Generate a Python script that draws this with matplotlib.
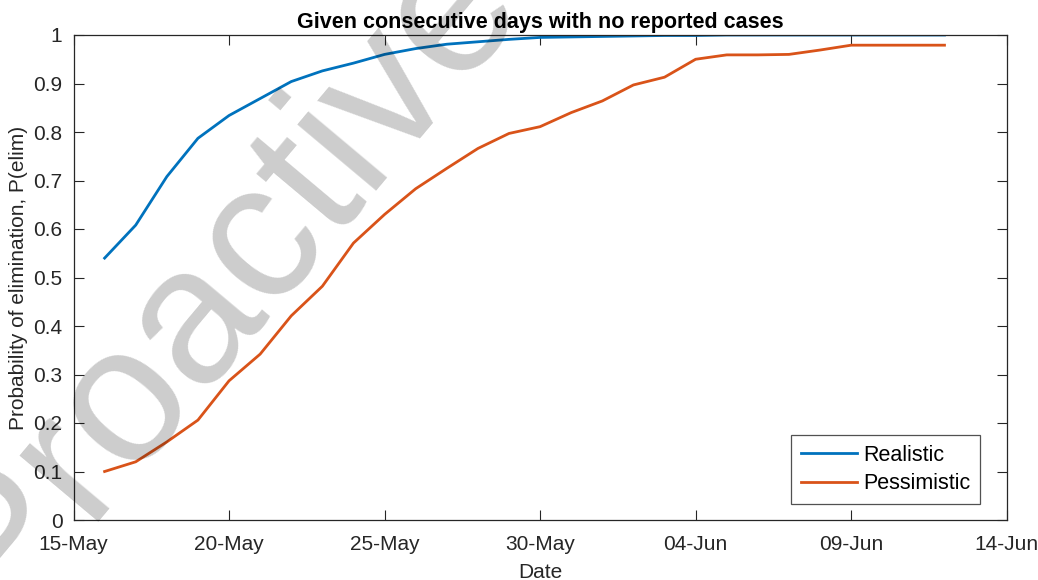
import matplotlib
matplotlib.use("Agg")
import matplotlib.pyplot as plt
import matplotlib.dates as mdates
import datetime as dt

plt.rcParams['font.family'] = ['Liberation Sans', 'DejaVu Sans']

start_date = dt.date(2020, 5, 16)
n_days = 28
dates = [start_date + dt.timedelta(days=i) for i in range(n_days)]

realistic = [0.54, 0.608, 0.708, 0.787, 0.834, 0.869, 0.904, 0.926, 0.942, 0.960,
             0.972, 0.981, 0.986, 0.991, 0.995, 0.996, 0.997, 0.998, 0.999, 0.999,
             1.0, 1.0, 1.0, 1.0, 1.0, 1.0, 1.0, 1.0]
pessimistic = [0.100, 0.120, 0.161, 0.206, 0.287, 0.342, 0.421, 0.482, 0.571, 0.630,
               0.683, 0.725, 0.766, 0.797, 0.811, 0.840, 0.864, 0.897, 0.913, 0.950,
               0.959, 0.959, 0.960, 0.969, 0.979, 0.979, 0.979, 0.979]

series_labels = ['Realistic', 'Pessimistic']
title = 'Given consecutive days with no reported cases'
xlabel = 'Date'
ylabel = 'Probability of elimination, P(elim)'
yticks = [0, 0.1, 0.2, 0.3, 0.4, 0.5, 0.6, 0.7, 0.8, 0.9, 1]
ytick_labels = ['0', '0.1', '0.2', '0.3', '0.4', '0.5', '0.6', '0.7', '0.8', '0.9', '1']
xtick_dates = [dt.date(2020, 5, 15) + dt.timedelta(days=5 * i) for i in range(7)]
watermark = 'Proactive'

W, H = 1038, 580
fig = plt.figure(figsize=(W / 100, H / 100), dpi=100)
ax = fig.add_axes([73.5 / W, 1 - 520 / H, (1006.7 - 73.5) / W, (520 - 35) / H])

axis_col = '#262626'
ax.plot(dates, realistic, color='#0072BD', lw=2.0, label=series_labels[0])
ax.plot(dates, pessimistic, color='#D95319', lw=2.0, label=series_labels[1])

ax.set_xlim(xtick_dates[0], xtick_dates[-1])
ax.set_ylim(0, 1)
ax.set_xticks(xtick_dates)
ax.xaxis.set_major_formatter(mdates.DateFormatter('%d-%b'))
ax.set_yticks(yticks)
ax.set_yticklabels(ytick_labels)

ax.tick_params(axis='both', direction='in', length=7, width=0.8, colors=axis_col,
               labelsize=15, top=True, right=True, pad=8)
ax.tick_params(axis='x', pad=11)
for s in ax.spines.values():
    s.set_color(axis_col)
    s.set_linewidth(0.9)

ax.set_title(title, fontsize=15.5, fontweight='bold', color='black', pad=5)
ax.set_xlabel(xlabel, fontsize=15, color=axis_col, labelpad=6)
ax.set_ylabel(ylabel, fontsize=15, color=axis_col, labelpad=4)

leg = ax.legend(loc='lower right', bbox_to_anchor=(980 / W, 1 - 504 / H),
                bbox_transform=fig.transFigure, borderaxespad=0,
                fontsize=15.5, frameon=True, fancybox=False,
                edgecolor=axis_col, handlelength=2.6, borderpad=0.45,
                labelspacing=0.35, handletextpad=0.3)
leg.get_frame().set_linewidth(0.9)

fig.text(262 / W, 1 - 308 / H, watermark, fontsize=140, color='black', alpha=0.2,
         rotation=50, rotation_mode='anchor', ha='center', va='baseline',
         zorder=10)

fig.savefig('out.png', dpi=100)
